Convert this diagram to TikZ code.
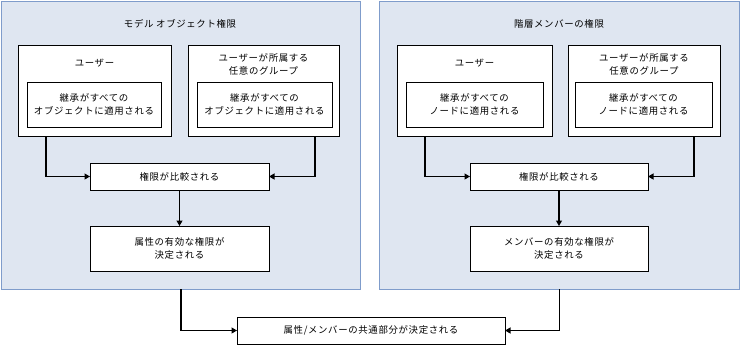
\documentclass[tikz,border=0pt]{standalone}
\usepackage{fontspec}
\setmainfont[LetterSpace=7]{Noto Sans CJK JP}
\usetikzlibrary{arrows.meta,calc}
\definecolor{panelfill}{HTML}{DFE6F1}
\definecolor{paneldraw}{HTML}{7F9CCB}
\begin{document}
\begin{tikzpicture}[x=1pt,y=-1pt,
  every node/.style={inner sep=0pt,outer sep=0pt,font=\fontsize{9.4}{13}\selectfont,align=center},
  panel/.style={draw=paneldraw,fill=panelfill,line width=0.9pt},
  box/.style={draw=black,fill=white,line width=0.9pt},
  arr/.style={draw=black,line width=1.1pt,-{Triangle[length=5.5pt,width=6pt]}},
  ]
\useasboundingbox (0,0) rectangle (740,346);
% panels
\node[panel,minimum width=359pt,minimum height=288pt] (lp) at (181,145) {};
\node[panel,minimum width=359.5pt,minimum height=288pt] (rp) at (559.25,145) {};
\node (lpt) at (180,24) {モデル オブジェクト権限};
\node (rpt) at (559,24) {階層メンバーの権限};
% left panel boxes
\node[box,minimum width=153pt,minimum height=91pt] (lu) at (94.5,90.5) {};
\node (lut) at (94.5,63) {ユーザー};
\node[box,minimum width=134pt,minimum height=45pt] (lui) at (94,104.5) {継承がすべての\\オブジェクトに適用される};
\node[box,minimum width=151pt,minimum height=91pt] (lg) at (263.5,90.5) {};
\node (lgt) at (263.5,64.5) {ユーザーが所属する\\任意のグループ};
\node[box,minimum width=135pt,minimum height=45pt] (lgi) at (264.5,104.5) {継承がすべての\\オブジェクトに適用される};
\node[box,minimum width=179pt,minimum height=27pt] (lc) at (179.5,176.5) {権限が比較される};
\node[box,minimum width=179pt,minimum height=45pt] (le) at (179.5,248.5) {属性の有効な権限が\\決定される};
% right panel boxes
\node[box,minimum width=155pt,minimum height=91pt] (ru) at (474.5,90.5) {};
\node (rut) at (474.5,63) {ユーザー};
\node[box,minimum width=137pt,minimum height=45pt] (rui) at (474.5,104.5) {継承がすべての\\ノードに適用される};
\node[box,minimum width=152pt,minimum height=91pt] (rg) at (644,90.5) {};
\node (rgt) at (644,64.5) {ユーザーが所属する\\任意のグループ};
\node[box,minimum width=137pt,minimum height=45pt] (rgi) at (643.5,104.5) {継承がすべての\\ノードに適用される};
\node[box,minimum width=178pt,minimum height=27pt] (rc) at (559,176.5) {権限が比較される};
\node[box,minimum width=178pt,minimum height=45pt] (re) at (559,248.5) {メンバーの有効な権限が\\決定される};
% final box
\node[box,minimum width=268pt,minimum height=27pt] (fin) at (371,330.5) {属性/メンバーの共通部分が決定される};
% connectors
\draw[arr] ([xshift=28pt]lu.south west) |- (lc.west);
\draw[arr] ([xshift=-24pt]lg.south east) |- (lc.east);
\draw[arr] (lc) -- (le);
\draw[arr] ([xshift=28pt]ru.south west) |- (rc.west);
\draw[arr] ([xshift=-26pt]rg.south east) |- (rc.east);
\draw[arr] (rc) -- (re);
\draw[arr] (lp.south) |- (fin.west);
\draw[arr] (rp.south) |- (fin.east);
\end{tikzpicture}
\end{document}
